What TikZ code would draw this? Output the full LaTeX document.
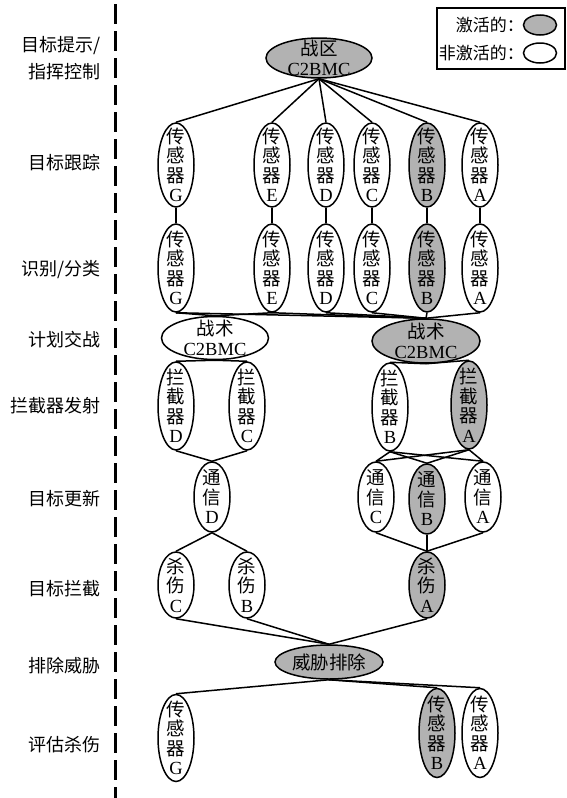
\documentclass[tikz,border=0pt]{standalone}
\usepackage{fontspec}
\setmainfont{Liberation Serif}
\newfontfamily\cjk{Noto Sans CJK SC}
\usetikzlibrary{shapes.geometric}
\newcommand\sen[1]{{\cjk 传}\\{\cjk 感}\\{\cjk 器}\\#1}
\newcommand\intc[1]{{\cjk 拦}\\{\cjk 截}\\{\cjk 器}\\#1}
\newcommand\com[1]{{\cjk 通}\\{\cjk 信}\\#1}
\newcommand\kil[1]{{\cjk 杀}\\{\cjk 伤}\\#1}
\begin{document}
\begin{tikzpicture}[x=1pt,y=-1pt,
  el/.style={ellipse,draw,line width=1.5pt,inner sep=0pt,fill=white},
  on/.style={fill=gray!60},
  vs/.style={el,minimum width=36pt,minimum height=#1},
  hz/.style={el,minimum width=107pt,minimum height=#1},
  lbl/.style={align=center,inner sep=0pt,font=\fontsize{18.5}{19.5}\selectfont},
  conn/.style={line width=1.5pt},
  stage/.style={anchor=east,align=right,inner sep=0pt,font=\cjk\fontsize{18}{27}\selectfont}]
\useasboundingbox (0,0) rectangle (566,798);
% dashed divider
\coordinate (dtop) at (115,4);
\coordinate (dbot) at (115,798);
\draw[line width=3pt,dash pattern=on 20pt off 7pt] (dtop) -- (dbot);
% legend
\coordinate (lg1) at (437,8);
\coordinate (lg2) at (565,69);
\draw[line width=1.2pt] (lg1) rectangle (lg2);
\node[el,on,minimum width=33pt,minimum height=20pt] (legOn) at (540,25) {};
\node[el,minimum width=33pt,minimum height=20pt] (legOff) at (540,53) {};
\node[anchor=east,inner sep=0pt,font=\cjk\fontsize{17}{19}\selectfont] (tOn) at (524,25) {激活的：};
\node[anchor=east,inner sep=0pt,font=\cjk\fontsize{17}{19}\selectfont] (tOff) at (524,53) {非激活的：};
% stage labels
\node[stage] (L1) at (101,58) {目标提示/\\指挥控制};
\node[stage] (L2) at (101,163) {目标跟踪};
\node[stage] (L3) at (101,270) {识别/分类};
\node[stage] (L4) at (101,340) {计划交战};
\node[stage] (L5) at (101,406) {拦截器发射};
\node[stage] (L6) at (101,499) {目标更新};
\node[stage] (L7) at (101,589) {目标拦截};
\node[stage] (L8) at (101,666) {排除威胁};
\node[stage] (L9) at (101,745) {评估杀伤};
% theater C2BMC
\node[hz=40pt,on,minimum width=106pt,label={[lbl]center:{\cjk 战区}\\C2BMC}] (th) at (319,58) {};
% sensors rows 1 and 2
\foreach \n/\x/\f in {G/176/white,E/272/white,D/326/white,C/372/white,B/427/gray!60,A/480/white}{
  \node[vs=84pt,fill=\f,label={[lbl]center:\sen{\n}}] (a\n) at (\x,165) {};
  \node[vs=88pt,fill=\f,label={[lbl]center:\sen{\n}}] (b\n) at (\x,268) {};
}
% tactical
\node[hz=43pt,label={[lbl]center:{\cjk 战术}\\C2BMC}] (tacL) at (215,338) {};
\node[hz=44pt,on,minimum width=108pt,label={[lbl]center:{\cjk 战术}\\C2BMC}] (tacR) at (426,341) {};
% interceptors
\node[vs=88pt,label={[lbl]center:\intc{D}}] (iD) at (176,406) {};
\node[vs=88pt,label={[lbl]center:\intc{C}}] (iC) at (247,406) {};
\node[vs=88pt,label={[lbl]center:\intc{B}}] (iB) at (390,407) {};
\node[vs=88pt,on,label={[lbl]center:\intc{A}}] (iA) at (469,405) {};
% comms
\node[vs=70pt,label={[lbl]center:\com{D}}] (cD) at (212,497) {};
\node[vs=70pt,label={[lbl]center:\com{C}}] (cC) at (376,497) {};
\node[vs=70pt,on,label={[lbl]center:\com{B}}] (cB) at (427,499) {};
\node[vs=70pt,label={[lbl]center:\com{A}}] (cA) at (483,497) {};
% kill vehicles
\node[vs=66pt,label={[lbl]center:\kil{C}}] (kC) at (176,585) {};
\node[vs=66pt,label={[lbl]center:\kil{B}}] (kB) at (247,585) {};
\node[vs=66pt,on,label={[lbl]center:\kil{A}}] (kA) at (427,585) {};
% threat eliminated
\node[hz=34pt,on,minimum width=108pt,label={[lbl]center:{\cjk 威胁排除}}] (thr) at (329,662) {};
% assess sensors
\node[vs=87pt,label={[lbl]center:\sen{G}}] (sG) at (176,738) {};
\node[vs=89pt,on,label={[lbl]center:\sen{B}}] (sB) at (437,733) {};
\node[vs=89pt,label={[lbl]center:\sen{A}}] (sA) at (480,733) {};
% connectors
\foreach \n in {G,E,D,C,B,A}{
  \draw[conn] (th.south) -- (a\n.north);
  \draw[conn] (a\n.south) -- (b\n.north);
  \draw[conn] (b\n.south) -- (tacR.north);
}
\draw[conn] (bG.south) -- (tacL.north);
\draw[conn] (bE.south) -- (tacL.north);
\draw[conn] (tacL.south) -- (iD.north);
\draw[conn] (tacL.south) -- (iC.north);
\draw[conn] (tacR.south) -- (iB.north);
\draw[conn] (tacR.south) -- (iA.north);
\draw[conn] (iD.south) -- (cD.north);
\draw[conn] (iC.south) -- (cD.north);
\foreach \i in {iB,iA}{
  \foreach \c in {cC,cB,cA}{
    \draw[conn] (\i.south) -- (\c.north);
  }
}
\draw[conn] (cD.south) -- (kC.north);
\draw[conn] (cD.south) -- (kB.north);
\foreach \c in {cC,cB,cA}{ \draw[conn] (\c.south) -- (kA.north); }
\foreach \k in {kC,kB,kA}{ \draw[conn] (\k.south) -- (thr.north); }
\foreach \s in {sG,sB,sA}{ \draw[conn] (thr.south) -- (\s.north); }
\end{tikzpicture}
\end{document}
